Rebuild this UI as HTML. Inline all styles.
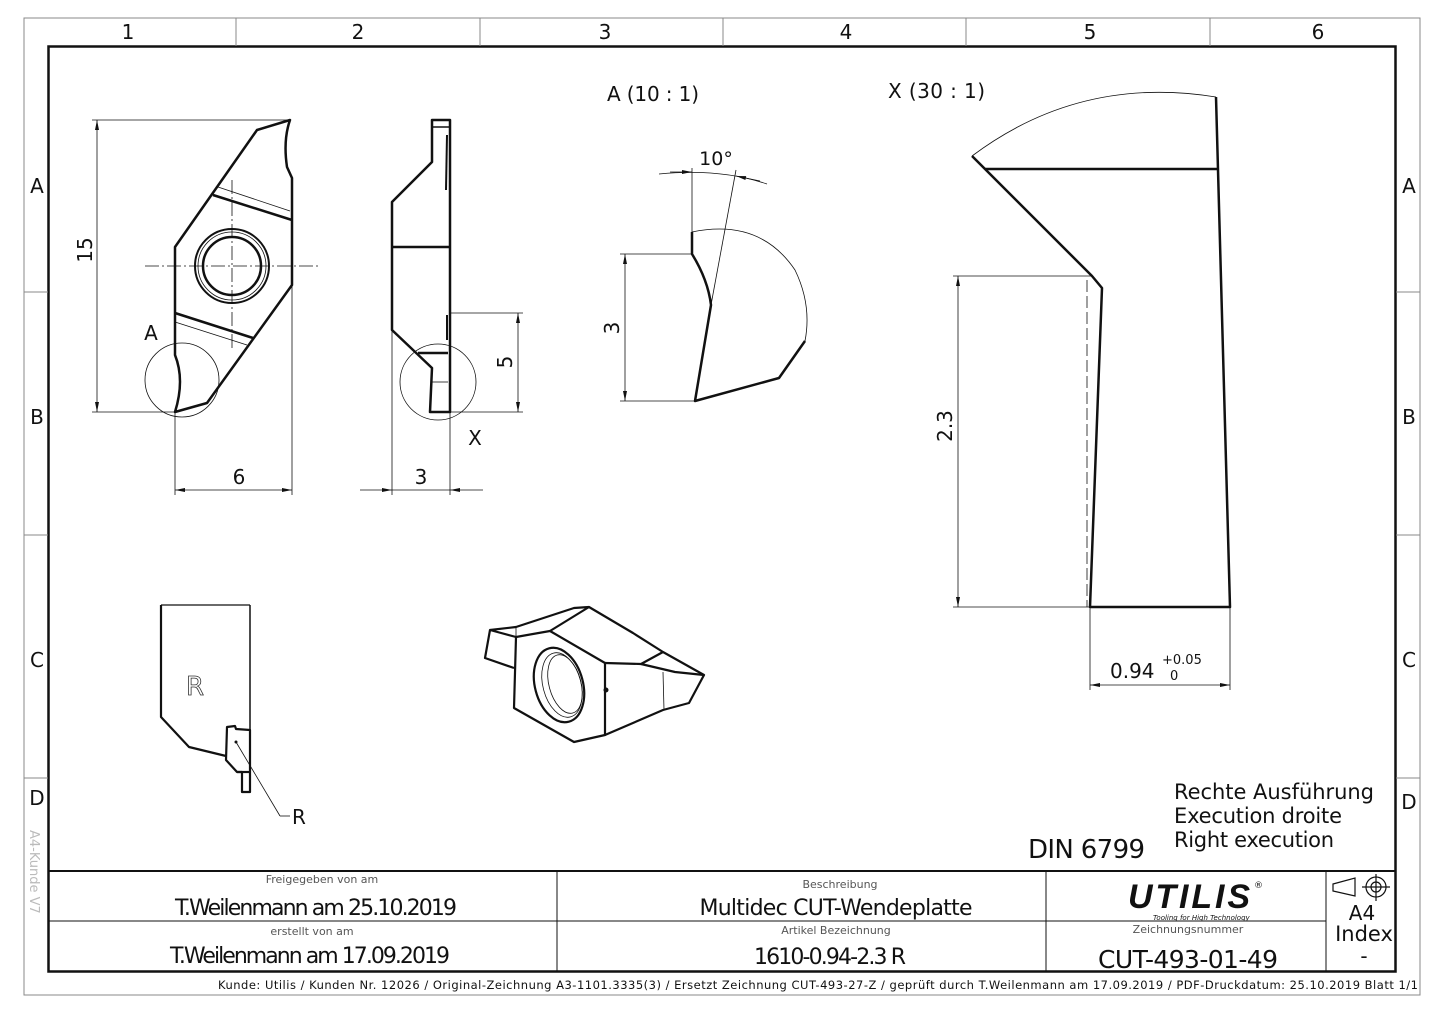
<!DOCTYPE html>
<html><head><meta charset="utf-8"><style>
html,body{margin:0;padding:0;background:#fff;}
svg{display:block;}
text{font-family:"DejaVu Sans","Liberation Sans",sans-serif;fill:#111;}
</style></head><body>
<svg width="1445" height="1022" viewBox="0 0 1445 1022" xmlns="http://www.w3.org/2000/svg">
<defs>
<marker id="ar" viewBox="0 0 10 4" refX="10" refY="2" markerWidth="12" markerHeight="4" orient="auto-start-reverse" markerUnits="userSpaceOnUse"><path d="M0,0 L10,2 L0,4Z" fill="#111"/></marker>
</defs>
<rect width="1445" height="1022" fill="#fff"/>
<rect x="24" y="18" width="1396" height="977" fill="none" stroke="#888" stroke-width="1"/>
<rect x="48.5" y="46.5" width="1347" height="925" fill="none" stroke="#111" stroke-width="2.5"/>
<g stroke="#888" stroke-width="1">
<line x1="236" y1="18" x2="236" y2="46"/><line x1="480" y1="18" x2="480" y2="46"/><line x1="723" y1="18" x2="723" y2="46"/><line x1="966" y1="18" x2="966" y2="46"/><line x1="1210" y1="18" x2="1210" y2="46"/>
<line x1="24" y1="292" x2="48" y2="292"/><line x1="24" y1="535" x2="48" y2="535"/><line x1="24" y1="778" x2="48" y2="778"/>
<line x1="1396" y1="292" x2="1420" y2="292"/><line x1="1396" y1="535" x2="1420" y2="535"/><line x1="1396" y1="778" x2="1420" y2="778"/>
</g>
<g font-size="20" text-anchor="middle">
<text x="128" y="39">1</text><text x="358" y="39">2</text><text x="605" y="39">3</text><text x="846" y="39">4</text><text x="1090" y="39">5</text><text x="1318" y="39">6</text>
<text x="37" y="193">A</text><text x="37" y="424">B</text><text x="37" y="667">C</text><text x="37" y="805">D</text>
<text x="1409" y="193">A</text><text x="1409" y="424">B</text><text x="1409" y="667">C</text><text x="1409" y="809">D</text>
</g>
<text x="30" y="830" font-size="13" transform="rotate(90 30 830)" style="fill:#bbb">A4-Kunde V7</text>

<!-- Front view -->
<g fill="none" stroke="#111" stroke-width="2.5" stroke-linejoin="round">
<path d="M290,120 L257,130 L175,247 L175,355 Q185,380 175,412 L207,403 L292,285 L292,178 L287,167 Q283,140 290,120Z"/>
<line x1="213" y1="195" x2="292" y2="220"/>
<line x1="175" y1="313" x2="253" y2="338"/>
<circle cx="232" cy="266" r="37" stroke-width="2"/>
<circle cx="232" cy="266" r="29" stroke-width="2.5"/>
</g>
<g fill="none" stroke="#111" stroke-width="0.8">
<circle cx="232" cy="266" r="34"/>
<line x1="218" y1="187" x2="290" y2="211"/>
<line x1="175" y1="322" x2="247" y2="345"/>
<line x1="145" y1="266" x2="320" y2="266" stroke-dasharray="14,3,2,3"/>
<line x1="232" y1="180" x2="232" y2="350" stroke-dasharray="14,3,2,3"/>
<circle cx="182" cy="380" r="37"/>
<line x1="92" y1="120" x2="290" y2="120"/><line x1="92" y1="412" x2="175" y2="412"/>
<line x1="97" y1="120" x2="97" y2="412" marker-start="url(#ar)" marker-end="url(#ar)"/>
<line x1="175" y1="412" x2="175" y2="495"/><line x1="292" y1="285" x2="292" y2="495"/>
<line x1="175" y1="490" x2="292" y2="490" marker-start="url(#ar)" marker-end="url(#ar)"/>
</g>
<text x="92" y="250" font-size="20" text-anchor="middle" transform="rotate(-90 92 250)">15</text>
<text x="239" y="484" font-size="20" text-anchor="middle">6</text>
<text x="151" y="340" font-size="20" text-anchor="middle">A</text>

<!-- Side view -->
<g fill="none" stroke="#111" stroke-width="2.5" stroke-linejoin="round">
<path d="M432,120 L450,120 L450,412 L430,412 L432,368 L392,330 L392,202 L432,162 Z"/>
<line x1="432" y1="127" x2="450" y2="127" stroke-width="1.5"/>
<line x1="392" y1="247" x2="450" y2="247"/>
<line x1="418" y1="353" x2="448" y2="353"/>
<line x1="447" y1="135" x2="446" y2="190" stroke-width="2"/>
<line x1="447" y1="315" x2="447" y2="340" stroke-width="2"/>
</g>
<g fill="none" stroke="#111" stroke-width="0.8">
<line x1="432" y1="382" x2="448" y2="382"/>
<circle cx="438" cy="382" r="38"/>
<line x1="392" y1="330" x2="392" y2="495"/><line x1="450" y1="412" x2="450" y2="495"/>
<line x1="360" y1="490" x2="392" y2="490" marker-end="url(#ar)"/>
<line x1="483" y1="490" x2="450" y2="490" marker-end="url(#ar)"/>
<line x1="392" y1="490" x2="450" y2="490"/>
<line x1="450" y1="313" x2="523" y2="313"/><line x1="450" y1="412" x2="523" y2="412"/>
<line x1="518" y1="313" x2="518" y2="412" marker-start="url(#ar)" marker-end="url(#ar)"/>
</g>
<text x="421" y="484" font-size="20" text-anchor="middle">3</text>
<text x="512" y="362" font-size="20" text-anchor="middle" transform="rotate(-90 512 362)">5</text>
<text x="475" y="445" font-size="20" text-anchor="middle">X</text>

<!-- Detail A -->
<text x="607" y="101" font-size="20" textLength="92">A (10 : 1)</text>
<g fill="none" stroke="#111" stroke-width="2.5" stroke-linejoin="round">
<path d="M692,232 L692,254 Q708,280 711,305 L695,401 L779,378 L805,341"/>
</g>
<g fill="none" stroke="#111" stroke-width="0.8">
<path d="M692,232 Q760,218 795,270 Q812,305 805,341"/>
<line x1="692" y1="168" x2="692" y2="232"/>
<line x1="711" y1="305" x2="736" y2="170"/>
<path d="M659,174 Q720,168 767,184"/>
<line x1="670" y1="172" x2="692" y2="172" marker-end="url(#ar)"/>
<line x1="760" y1="181" x2="736" y2="176" marker-end="url(#ar)"/>
<line x1="620" y1="254" x2="692" y2="254"/><line x1="620" y1="401" x2="695" y2="401"/>
<line x1="625" y1="254" x2="625" y2="401" marker-start="url(#ar)" marker-end="url(#ar)"/>
</g>
<text x="716" y="165" font-size="19" text-anchor="middle">10°</text>
<text x="619" y="328" font-size="20" text-anchor="middle" transform="rotate(-90 619 328)">3</text>

<!-- Detail X -->
<text x="888" y="98" font-size="20" textLength="97">X (30 : 1)</text>
<g fill="none" stroke="#111" stroke-width="2.5" stroke-linejoin="round">
<path d="M972,156 L1092,276 L1102,288 L1090,607 L1230,607 L1216,97"/>
<line x1="985" y1="169" x2="1217" y2="169"/>
</g>
<g fill="none" stroke="#111" stroke-width="0.8">
<path d="M972,156 Q1080,75 1216,97"/>
<line x1="1087" y1="280" x2="1087" y2="607" stroke-dasharray="12,4"/>
<line x1="953" y1="276" x2="1092" y2="276"/><line x1="953" y1="607" x2="1090" y2="607"/>
<line x1="958" y1="276" x2="958" y2="607" marker-start="url(#ar)" marker-end="url(#ar)"/>
<line x1="1090" y1="607" x2="1090" y2="690"/><line x1="1230" y1="607" x2="1230" y2="690"/>
<line x1="1090" y1="685" x2="1230" y2="685" marker-start="url(#ar)" marker-end="url(#ar)"/>
</g>
<text x="952" y="426" font-size="20" text-anchor="middle" transform="rotate(-90 952 426)">2.3</text>
<text x="1110" y="678" font-size="20">0.94</text>
<text x="1162" y="664" font-size="13">+0.05</text>
<text x="1170" y="680" font-size="13">0</text>

<!-- Holder -->
<g fill="none" stroke="#111" stroke-width="2.2" stroke-linejoin="round">
<path d="M161,605 L161,717 L189,747 L226,756"/>
<line x1="161" y1="605" x2="250" y2="605" stroke-width="1.2"/>
<line x1="250" y1="605" x2="250" y2="730" stroke-width="1.5"/>
<path d="M227,727 L226,760 L237,772 L242,772 L242,792 L250,792 L250,730 L236,729 L235,726 Z"/>
<line x1="237" y1="772" x2="250" y2="772"/>
</g>
<circle cx="236" cy="742" r="1.5" fill="#111"/>
<line x1="236" y1="742" x2="280" y2="816" stroke="#111" stroke-width="0.8"/>
<line x1="280" y1="816" x2="290" y2="816" stroke="#111" stroke-width="0.8"/>
<text x="292" y="824" font-size="20">R</text>
<text x="195" y="695" font-size="26" text-anchor="middle" style="fill:#fff;stroke:#333;stroke-width:0.8">R</text>

<!-- Iso view -->
<g fill="none" stroke="#111" stroke-width="2.2" stroke-linejoin="round">
<path d="M516,637 L550,631 L605,663 L605,735 L574,742 L514,708 Z"/>
<path d="M516,637 L490,630 L485,658 L514,668"/>
<path d="M490,630 L516,627 L574,608 L589,607 L633,633 L663,652 L704,675 L689,703 L663,710 L605,735"/>
<path d="M550,631 L589,607"/>
<path d="M605,663 L641,664 L663,652"/>
<path d="M641,664 L675,672 L704,675"/>
<ellipse cx="559" cy="685" rx="24" ry="38" transform="rotate(-15 559 685)"/>
</g>
<g fill="none" stroke="#111" stroke-width="0.8">
<ellipse cx="562" cy="685" rx="19" ry="33" transform="rotate(-15 562 685)"/>
<ellipse cx="565" cy="684" rx="16" ry="30" transform="rotate(-15 565 684)"/>
<line x1="663" y1="672" x2="664" y2="710"/>
<line x1="516" y1="627" x2="516" y2="637"/>
</g>
<circle cx="606" cy="690" r="2.5" fill="#111"/>

<!-- notes -->
<text x="1174" y="799" font-size="21" textLength="200">Rechte Ausführung</text>
<text x="1174" y="823" font-size="21" textLength="168">Execution droite</text>
<text x="1174" y="847" font-size="21" textLength="160">Right execution</text>
<text x="1028" y="858" font-size="26" textLength="117">DIN 6799</text>

<!-- title block -->
<g stroke="#111" fill="none">
<line x1="48" y1="871" x2="1396" y2="871" stroke-width="2"/>
<line x1="48" y1="921" x2="1326" y2="921" stroke-width="1"/>
<line x1="557" y1="871" x2="557" y2="972" stroke-width="1"/>
<line x1="1046" y1="871" x2="1046" y2="972" stroke-width="1"/>
<line x1="1326" y1="871" x2="1326" y2="972" stroke-width="1"/>
</g>
<g text-anchor="middle">
<text x="322" y="883" font-size="11" style="fill:#555">Freigegeben von am</text>
<text x="316" y="915" font-size="22" textLength="282">T.Weilenmann am 25.10.2019</text>
<text x="312" y="935" font-size="11" style="fill:#555">erstellt von am</text>
<text x="310" y="963" font-size="22" textLength="280">T.Weilenmann am 17.09.2019</text>
<text x="840" y="888" font-size="11" style="fill:#555">Beschreibung</text>
<text x="836" y="915" font-size="22" textLength="273">Multidec CUT-Wendeplatte</text>
<text x="836" y="934" font-size="11" style="fill:#555">Artikel Bezeichnung</text>
<text x="830" y="964" font-size="22" textLength="152">1610-0.94-2.3 R</text>
<text x="1188" y="933" font-size="11" style="fill:#555">Zeichnungsnummer</text>
<text x="1188" y="968" font-size="25" textLength="180">CUT-493-01-49</text>
<text x="1362" y="920" font-size="20">A4</text>
<text x="1364" y="941" font-size="21">Index</text>
<text x="1364" y="963" font-size="20">-</text>
</g>
<text x="1128" y="908" font-size="34" font-weight="bold" font-style="italic" textLength="122" style="font-family:'Liberation Sans',sans-serif">UTILIS</text>
<text x="1254" y="888" font-size="9">®</text>
<text x="1153" y="920" font-size="7" font-style="italic">Tooling for High Technology</text>
<g fill="none" stroke="#111" stroke-width="1.2">
<path d="M1333,884 L1355,878 L1355,896 L1333,891 Z"/>
<circle cx="1376" cy="887" r="10"/><circle cx="1376" cy="887" r="5"/>
<line x1="1362" y1="887" x2="1390" y2="887"/><line x1="1376" y1="874" x2="1376" y2="901"/>
</g>
<text x="218" y="989" font-size="11.5" textLength="1200">Kunde: Utilis / Kunden Nr. 12026 /  Original-Zeichnung A3-1101.3335(3)      /      Ersetzt Zeichnung CUT-493-27-Z / geprüft durch T.Weilenmann am 17.09.2019 / PDF-Druckdatum: 25.10.2019  Blatt 1/1</text>
</svg>
</body></html>
